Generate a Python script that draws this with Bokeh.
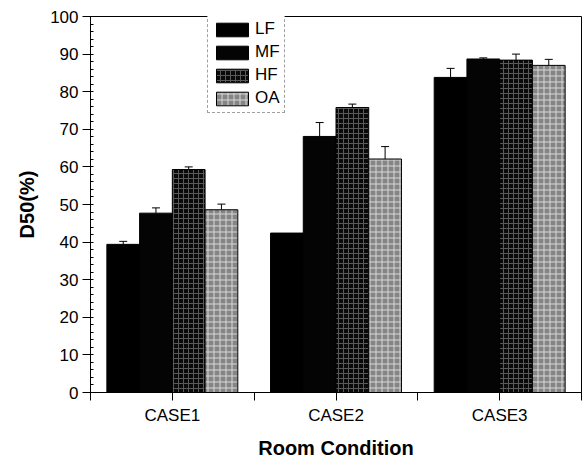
from bokeh.plotting import figure
from bokeh.models import Range1d, FixedTicker, ColumnDataSource, Whisker, Legend, LegendItem
from bokeh.embed import file_html
from bokeh.resources import INLINE

categories = ["CASE1", "CASE2", "CASE3"]
series = ["LF", "MF", "HF", "OA"]
values = {
    "LF": [39.4, 42.4, 83.8],
    "MF": [47.7, 68.1, 88.7],
    "HF": [59.3, 75.8, 88.4],
    "OA": [48.6, 62.1, 87.0],
}
errors = {
    "LF": [0.8, 0.0, 2.4],
    "MF": [1.4, 3.7, 0.3],
    "HF": [0.7, 0.9, 1.6],
    "OA": [1.5, 3.3, 1.6],
}
y_ticks = [0, 10, 20, 30, 40, 50, 60, 70, 80, 90, 100]

styles = {
    "LF": dict(fill_color="#000000", hatch_pattern=None),
    "MF": dict(fill_color="#040404", hatch_pattern=None),
    "HF": dict(fill_color="#0a0a0a", hatch_pattern="+", hatch_color="#5a5a5a", hatch_scale=5, hatch_weight=1),
    "OA": dict(fill_color="#858585", hatch_pattern="+", hatch_color="#d8d8d8", hatch_scale=6, hatch_weight=1),
}

FONT = "Liberation Sans"

p = figure(width=586, height=461, output_backend="svg", toolbar_location=None,
           x_range=Range1d(0.5, 3.5), y_range=Range1d(0, 100),
           min_border_left=90, min_border_right=5, min_border_top=16, min_border_bottom=68)
p.xgrid.visible = False
p.ygrid.visible = False
p.outline_line_color = "black"
p.outline_line_width = 1
p.background_fill_color = "white"
p.border_fill_color = "white"

bar_w = 0.2
n = len(series)
items = []
for i, s in enumerate(series):
    off = (i - (n - 1) / 2) * bar_w
    xs = [k + 1 + off for k in range(len(categories))]
    src = ColumnDataSource(dict(x=xs, top=values[s]))
    st = dict(styles[s])
    r = p.vbar(x="x", top="top", width=bar_w, source=src, line_color="black", line_width=1, **st)
    items.append(LegendItem(label=s, renderers=[r]))
    ex, lo, up = [], [], []
    for k in range(len(categories)):
        if errors[s][k] > 0:
            ex.append(xs[k]); lo.append(values[s][k]); up.append(values[s][k] + errors[s][k])
    esrc = ColumnDataSource(dict(x=ex, lower=lo, upper=up))
    w = Whisker(base="x", lower="lower", upper="upper", source=esrc, line_color="black", line_width=1)
    w.lower_head = None
    w.upper_head.size = 8
    w.upper_head.line_color = "black"
    p.add_layout(w)

legend = Legend(items=items, location=(117, 279), orientation="vertical")
legend.label_text_font = FONT
legend.label_text_font_size = "17px"
legend.label_text_color = "black"
legend.glyph_width = 40
legend.glyph_height = 17
legend.spacing = 3
legend.padding = 4
legend.label_standoff = 3
legend.margin = 0
legend.border_line_color = "#444444"
legend.border_line_dash = "2 2"
legend.border_line_width = 1
legend.background_fill_alpha = 1
p.add_layout(legend)

# x axis
p.xaxis.ticker = FixedTicker(ticks=[0.5, 1, 1.5, 2, 2.5, 3, 3.5])
p.xaxis.major_label_overrides = {0.5: "", 1: categories[0], 1.5: "", 2: categories[1], 2.5: "", 3: categories[2], 3.5: ""}
p.xaxis.axis_label = "Room Condition"
p.xaxis.major_tick_out = 8
p.xaxis.major_tick_in = 0
p.xaxis.minor_tick_out = 0
p.xaxis.minor_tick_in = 0
p.xaxis.major_label_standoff = 5
p.xaxis.axis_label_standoff = 9

# y axis
p.yaxis.ticker = FixedTicker(ticks=y_ticks, minor_ticks=list(range(0, 101, 2)))
p.yaxis.axis_label = "D50(%)"
p.yaxis.major_tick_out = 8
p.yaxis.major_tick_in = 0
p.yaxis.minor_tick_out = 0
p.yaxis.minor_tick_in = 3
p.yaxis.major_label_standoff = 4
p.yaxis.axis_label_standoff = 9

for ax in (p.xaxis, p.yaxis):
    ax.axis_line_color = "black"
    ax.axis_line_width = 1
    ax.major_tick_line_color = "black"
    ax.minor_tick_line_color = "black"
    ax.major_label_text_font = FONT
    ax.major_label_text_font_size = "17px"
    ax.major_label_text_color = "black"
    ax.axis_label_text_font = FONT
    ax.axis_label_text_font_size = "20px"
    ax.axis_label_text_font_style = "bold"
    ax.axis_label_text_color = "black"

open("out.html", "w").write(file_html(p, INLINE))
